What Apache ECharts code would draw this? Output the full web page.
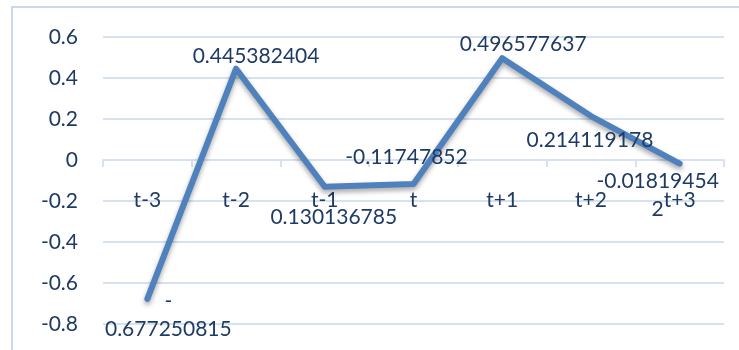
<!DOCTYPE html>
<html>
<head>
<meta charset="utf-8">
<script src="https://cdn.jsdelivr.net/npm/echarts@6/dist/echarts.min.js"></script>
<style>
html, body { margin: 0; padding: 0; background: #fff; }
#chart { width: 739px; height: 350px; }
</style>
</head>
<body>
<div id="chart"></div>
<script>
var categories = ['t-3', 't-2', 't-1', 't', 't+1', 't+2', 't+3'];
var values = [-0.677250815, 0.445382404, -0.130136785, -0.11747852, 0.496577637, 0.214119178, -0.018194542];
// label text as it shows in the picture (wrapped / clipped)
var labelTexts = ['-\n0.677250815', '0.445382404', '0.130136785', '-0.11747852', '0.496577637', '0.214119178', '-0.01819454\n2'];
var labelOffsets = [[21, 16], [20, -12], [9, 31], [-7, -27], [21, -14], [-1, 24], [-22, 32]];
var yTicks = { min: -0.8, max: 0.6, interval: 0.2 };

var textColor = '#1f3b63';
var gridColor = '#d6e2f2';
var font = 'Lato';

var chart = echarts.init(document.getElementById('chart'));

var gridTop = 37, gridBottom = 26;
var plotH = 350 - gridTop - gridBottom;
// move the category axis up to the zero line
var zeroOffset = -plotH * (0 - yTicks.min) / (yTicks.max - yTicks.min);

var seriesData = [];
for (var i = 0; i < values.length; i++) {
	seriesData.push({
		value: values[i],
		label: {
			show: true,
			position: 'inside',
			offset: labelOffsets[i],
			formatter: labelTexts[i]
		}
	});
}

chart.setOption({
	animation: false,
	graphic: [{
		type: 'rect',
		shape: { x: 12, y: 7, width: 740, height: 360 },
		style: { fill: 'none', stroke: '#c9daf0', lineWidth: 2 },
		z: -1
	}],
	grid: { left: 103, right: 15, top: gridTop, bottom: gridBottom, containLabel: false, outerBoundsMode: 'none' },
	xAxis: {
		type: 'category',
		data: categories,
		boundaryGap: true,
		position: 'bottom',
		offset: zeroOffset,
		axisLine: { show: true, onZero: false, lineStyle: { color: gridColor, width: 2 } },
		axisTick: { show: true, length: 7, lineStyle: { color: gridColor, width: 2 } },
		axisLabel: { color: textColor, fontFamily: font, fontSize: 21, margin: 30 },
		splitLine: { show: false }
	},
	yAxis: {
		type: 'value',
		min: yTicks.min,
		max: yTicks.max,
		interval: yTicks.interval,
		axisLine: { show: false },
		axisTick: { show: false },
		axisLabel: {
			color: textColor, fontFamily: font, fontSize: 21, margin: 25,
			formatter: function (v) { return String(Math.round(v * 10) / 10); }
		},
		splitLine: { lineStyle: { color: gridColor, width: 2 } }
	},
	series: [{
		type: 'line',
		data: seriesData,
		symbol: 'circle',
		symbolSize: 1,
		itemStyle: { color: '#4f81bd' },
		lineStyle: {
			color: '#4f81bd', width: 6, cap: 'round', join: 'round',
			shadowColor: 'rgba(0,0,0,0.35)', shadowBlur: 5, shadowOffsetY: 3
		},
		label: {
			color: textColor, fontFamily: font, fontSize: 21, lineHeight: 28,
			align: 'center', verticalAlign: 'middle'
		}
	}]
});
</script>
</body>
</html>
